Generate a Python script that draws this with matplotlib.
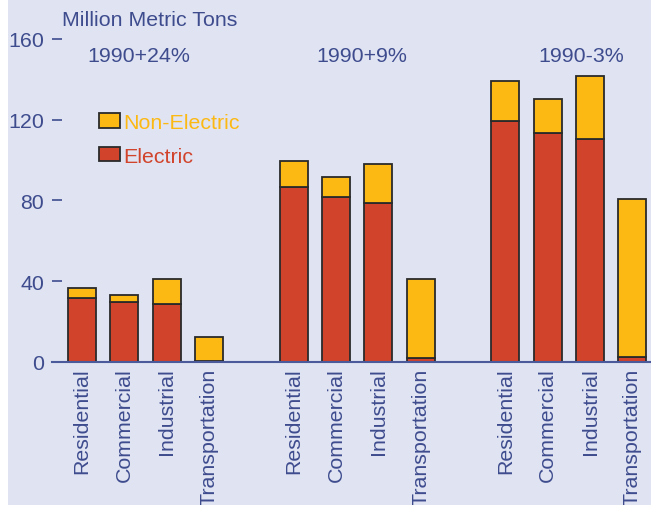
import matplotlib.pyplot as plt
from matplotlib.patches import Rectangle, Patch
import numpy as np

plt.rcParams['font.family'] = ['Liberation Sans', 'DejaVu Sans']

# data (million metric tons)
sectors = ["Residential", "Commercial", "Industrial", "Transportation"]
scenarios = ["1990+24%", "1990+9%", "1990-3%"]
electric = [31.7, 29.9, 28.7, 0.5,
            86.8, 81.8, 78.9, 1.8,
            119.6, 113.5, 110.4, 2.6]
total = [36.6, 33.2, 41.0, 12.4,
         99.4, 91.4, 98.2, 41.2,
         139.0, 130.5, 141.9, 80.8]
non_electric = [t - e for t, e in zip(total, electric)]
yticks = [0, 40, 80, 120, 160]

bg = '#DFE3F2'
txt = '#3E4C8E'
red = '#D1432B'
orange = '#FDB913'
edge = '#2A2A2A'
fs = 15.4

# 4 bars per group, one empty slot between groups
x = []
for g in range(len(scenarios)):
    for i in range(len(sectors)):
        x.append(g * 5 + i)
x = np.array(x)

fig = plt.figure(figsize=(6.51, 5.06), dpi=100, facecolor='white')
fig.patches.append(Rectangle((8 / 651, 0), 1, 1, transform=fig.transFigure,
                             facecolor=bg, edgecolor='none', zorder=-10))

ax = fig.add_axes([52 / 651, (506 - 363) / 506, 599 / 651, 323 / 506])
ax.set_facecolor('none')

ax.bar(x, electric, width=0.66, color=red, edgecolor=edge, linewidth=1.3)
ax.bar(x, non_electric, bottom=electric, width=0.66, color=orange,
       edgecolor=edge, linewidth=1.3)

ax.set_xlim(-0.71, 13.44)
ax.set_ylim(0, 160)
ax.set_yticks(yticks)
ax.set_yticklabels([str(v) for v in yticks])
ax.set_xticks(x)
ax.set_xticklabels(sectors * len(scenarios), rotation=90)

for s in ['top', 'right', 'left']:
    ax.spines[s].set_visible(False)
ax.spines['bottom'].set_color('#4A5A9A')
ax.spines['bottom'].set_linewidth(1.5)

ax.tick_params(axis='y', direction='in', length=7, width=1.2, color=txt,
               labelcolor=txt, labelsize=fs, pad=5.5)
ax.tick_params(axis='x', length=0, labelcolor=txt, labelsize=fs, pad=4)

fig.text(62 / 651, 1 - 21 / 506, "Million Metric Tons", fontsize=fs,
         color=txt, ha='left', va='center')

for g, label in enumerate(scenarios):
    cx = g * 5 + 1.5 + [-0.15, 0.1, 0.3][g]
    ax.text(cx, 152, label, ha='center', va='center', fontsize=fs,
            color=txt, clip_on=False)

handles = [Patch(facecolor=orange, edgecolor=edge, linewidth=1.3),
           Patch(facecolor=red, edgecolor=edge, linewidth=1.3)]
ax.legend(handles, ["Non-Electric", "Electric"], loc='upper left',
          bbox_to_anchor=(47 / 599, (363 - 114) / 323), frameon=False,
          fontsize=fs, labelcolor=[orange, red], handlelength=1.0,
          handleheight=0.65, handletextpad=0.15, labelspacing=0.68,
          borderpad=0, borderaxespad=0)

fig.savefig('out.png', dpi=100, facecolor=fig.get_facecolor())
